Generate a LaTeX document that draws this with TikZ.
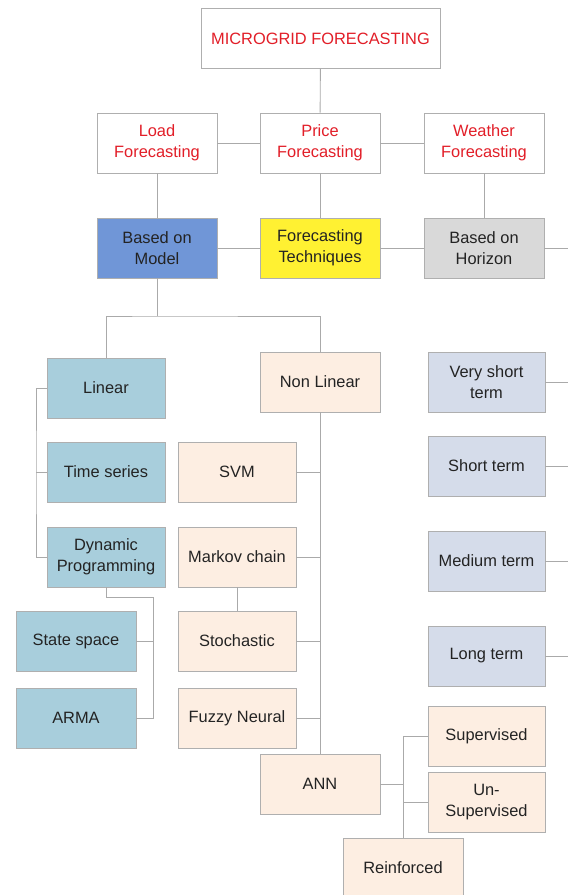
\documentclass[tikz,border=0pt]{standalone}
\usepackage{xcolor}
\usepackage{fontspec}
\setmainfont{Liberation Sans}
\usepackage{tikz}
\usetikzlibrary{positioning}

\definecolor{titlered}{RGB}{226,30,40}
\definecolor{inktext}{RGB}{35,35,35}
\definecolor{wire}{RGB}{170,170,170}
\definecolor{rim}{RGB}{175,175,175}
\definecolor{modelblue}{RGB}{112,150,215}
\definecolor{techyellow}{RGB}{255,241,50}
\definecolor{horgrey}{RGB}{217,217,217}
\definecolor{linteal}{RGB}{168,206,220}
\definecolor{peach}{RGB}{253,238,226}
\definecolor{termgrey}{RGB}{213,220,234}

\begin{document}
\begin{tikzpicture}[
    x=1pt, y=-1pt,
    box/.style={draw=rim, line width=0.9pt, minimum width=120pt, minimum height=60pt,
        inner sep=0pt, align=center, text=inktext,
        font=\fontsize{16.4}{20.5}\selectfont},
    topbox/.style={box, fill=white, text=titlered},
    modelbox/.style={box, fill=modelblue},
    techbox/.style={box, fill=techyellow},
    horbox/.style={box, fill=horgrey},
    linbox/.style={box, fill=linteal, minimum width=118pt},
    nlbox/.style={box, fill=peach},
    termbox/.style={box, fill=termgrey, minimum width=117pt},
    wire/.style={draw=wire, line width=0.9pt}
]
    \useasboundingbox (0,0) rectangle (568,895);
    \clip (0,0) rectangle (568,895);
    \fill[white] (0,0) rectangle (568,895);

    % Root and forecasting types
    \node[topbox, minimum width=239pt] (root) at (320.5,38.5) {MICROGRID FORECASTING};
    \node[topbox] (load) at (157,143) {Load\\Forecasting};
    \node[topbox] (price) at (320,143) {Price\\Forecasting};
    \node[topbox] (weather) at (484,143) {Weather\\Forecasting};

    % Classification
    \node[modelbox] (model) at (157,248) {Based on\\Model};
    \node[techbox] (tech) at (320,248) {Forecasting\\Techniques};
    \node[horbox] (horizon) at (484,248) {Based on\\Horizon};

    % Linear models
    \node[linbox] (linear) at (106,388) {Linear};
    \node[linbox] (tseries) at (106,472) {Time series};
    \node[linbox] (dynprog) at (106,557) {Dynamic\\Programming};
    \node[linbox, minimum width=120pt] (statesp) at (76,641) {State space};
    \node[linbox, minimum width=120pt] (arma) at (76,718) {ARMA};

    % Non linear models
    \node[nlbox] (nonlin) at (320,382) {Non Linear};
    \node[nlbox, minimum width=118pt] (svm) at (237,472) {SVM};
    \node[nlbox, minimum width=118pt] (markov) at (237,557) {Markov chain};
    \node[nlbox, minimum width=118pt] (stoch) at (237,641) {Stochastic};
    \node[nlbox, minimum width=118pt] (fuzzy) at (237,718) {Fuzzy Neural};
    \node[nlbox] (ann) at (320,784) {ANN};
    \node[nlbox, minimum width=117pt] (superv) at (486.5,736) {Supervised};
    \node[nlbox, minimum width=117pt] (unsup) at (486.5,802) {Un-\\Supervised};
    \node[nlbox] (reinf) at (403,868) {Reinforced};

    % Horizons
    \node[termbox] (vshort) at (486.5,382) {Very short\\term};
    \node[termbox] (short) at (486.5,466) {Short term};
    \node[termbox] (medium) at (486.5,561) {Medium term};
    \node[termbox] (long) at (486.5,656) {Long term};

    % Junction points
    \coordinate (redge) at (568,0);
    \coordinate (mjoin) at (157,316);
    \coordinate (lspine) at (36,472);
    \coordinate (dtop) at (153,597);

    % Upper connections
    \draw[wire] (root) -- (price);
    \draw[wire] (load) -- (price);
    \draw[wire] (price) -- (weather);
    \draw[wire] (load) -- (model);
    \draw[wire] (price) -- (tech);
    \draw[wire] (weather) -- (horizon);
    \draw[wire] (model) -- (tech);
    \draw[wire] (tech) -- (horizon);
    \draw[wire] (horizon.east) -- (horizon.east -| redge);

    % Model branches
    \draw[wire] (model.south) -- (mjoin);
    \draw[wire] (linear.north) |- (mjoin) -| (nonlin.north);
    \draw[wire] (linear.west) -| (lspine) |- (dynprog.west);
    \draw[wire] (tseries.west) -- (lspine);
    \draw[wire] (dynprog.south) |- (dtop) |- (arma.east);
    \draw[wire] (statesp.east) -- (statesp.east -| dtop);

    % Non linear branches
    \draw[wire] (nonlin.south) -- (ann.north);
    \draw[wire] (svm.east) -- (svm.east -| ann.north);
    \draw[wire] (markov.east) -- (markov.east -| ann.north);
    \draw[wire] (stoch.east) -- (stoch.east -| ann.north);
    \draw[wire] (fuzzy.east) -- (fuzzy.east -| ann.north);
    \draw[wire] (markov.south) -- (stoch.north);
    \draw[wire] (superv.west) -| (reinf.north);
    \draw[wire] (unsup.west) -- (unsup.west -| reinf.north);
    \draw[wire] (ann.east) -- (ann.east -| reinf.north);

    % Horizon stubs
    \draw[wire] (vshort.east) -- (vshort.east -| redge);
    \draw[wire] (short.east) -- (short.east -| redge);
    \draw[wire] (medium.east) -- (medium.east -| redge);
    \draw[wire] (long.east) -- (long.east -| redge);
\end{tikzpicture}
\end{document}
